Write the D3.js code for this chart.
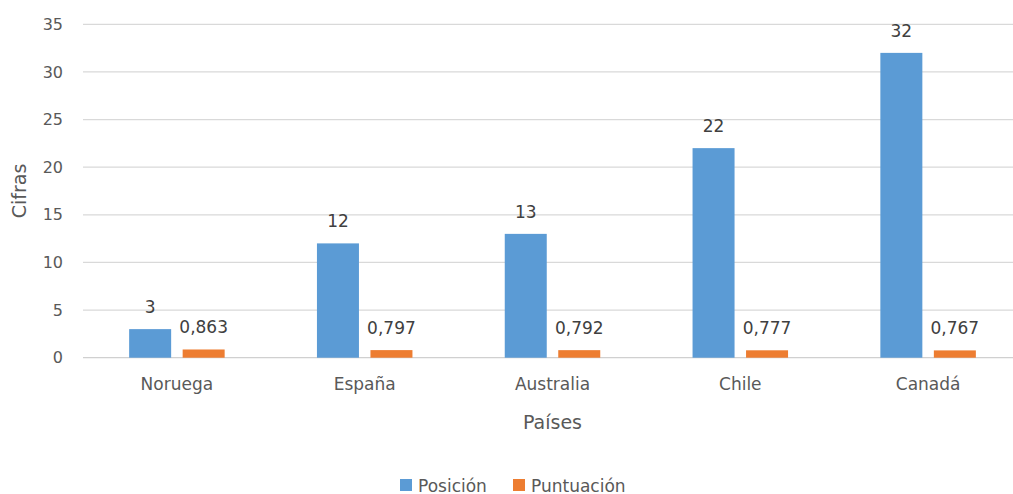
<!DOCTYPE html>
<html><head><meta charset="utf-8">
<script src="https://cdn.jsdelivr.net/npm/d3@7"></script>
<style>body{margin:0;background:#fff;overflow:hidden}svg{display:block;font-family:"DejaVu Sans",sans-serif}</style>
</head><body>
<svg id="c" width="1013" height="494"></svg>
<script>
const categories = ["Noruega","España","Australia","Chile","Canadá"];
const posicion = [3,12,13,22,32];
const puntuacion = [0.863,0.797,0.792,0.777,0.767];
const seriesNames = ["Posición","Puntuación"];
const seriesColors = ["#5B9BD5","#ED7D31"];
const yTicks = [0,5,10,15,20,25,30,35];

const svg = d3.select("#c");
const pL = 83, pR = 1022, pT = 24.3, pB = 357.7;
const x = d3.scaleBand().domain(categories).range([pL,pR]).paddingInner(0).paddingOuter(0);
const y = d3.scaleLinear().domain([0,35]).range([pB,pT]);
const bw = 42, gap = 11.5;
const fmt = v => String(v).replace(".",",");
const textCol = "#595959";

// gridlines
svg.append("g").selectAll("line").data(yTicks).join("line")
  .attr("x1",pL).attr("x2",pR).attr("y1",d=>y(d)).attr("y2",d=>y(d))
  .attr("stroke",d=>d===0?"#D0D0D0":"#D9D9D9").attr("stroke-width",1.3);

// y axis labels
const yAxis = d3.axisLeft(y).tickValues(yTicks).tickSize(0).tickPadding(0);
const ya = svg.append("g").attr("transform",`translate(63,0)`).call(yAxis);
ya.select(".domain").remove();
ya.selectAll("text").attr("fill",textCol).attr("font-size",16).attr("font-family","DejaVu Sans");

// x axis labels
const xAxis = d3.axisBottom(x).tickSize(0).tickPadding(0);
const xa = svg.append("g").attr("transform",`translate(0,378)`).call(xAxis);
xa.select(".domain").remove();
xa.selectAll("text").attr("fill",textCol).attr("font-size",17).attr("font-family","DejaVu Sans").attr("dy","0.71em");

const series = [posicion, puntuacion];
series.forEach((vals,si)=>{
  const off = si===0 ? -(gap/2+bw) : gap/2;
  const g = svg.append("g");
  g.selectAll("rect").data(vals).join("rect")
    .attr("x",(d,i)=>x(categories[i])+x.bandwidth()/2+off)
    .attr("y",d=>y(d)).attr("width",bw).attr("height",d=>y(0)-y(d))
    .attr("fill",seriesColors[si]);
  g.selectAll("text").data(vals).join("text")
    .attr("x",(d,i)=>x(categories[i])+x.bandwidth()/2+off+bw/2)
    .attr("y",d=>y(d)-16).attr("text-anchor","middle")
    .attr("font-size",17).attr("fill","#404040").text(d=>fmt(d));
});

// axis titles
svg.append("text").attr("transform",`translate(26,${(pT+pB)/2}) rotate(-90)`)
  .attr("text-anchor","middle").attr("font-size",19).attr("fill",textCol).text("Cifras");
svg.append("text").attr("x",(pL+pR)/2).attr("y",429).attr("text-anchor","middle")
  .attr("font-size",19).attr("fill",textCol).text("Países");

// legend
const legX = [400,513];
seriesNames.forEach((n,i)=>{
  svg.append("rect").attr("x",legX[i]).attr("y",479).attr("width",12).attr("height",12).attr("fill",seriesColors[i]);
  svg.append("text").attr("x",legX[i]+18).attr("y",491.5).attr("font-size",17).attr("fill",textCol).text(n);
});
</script>
</body></html>
